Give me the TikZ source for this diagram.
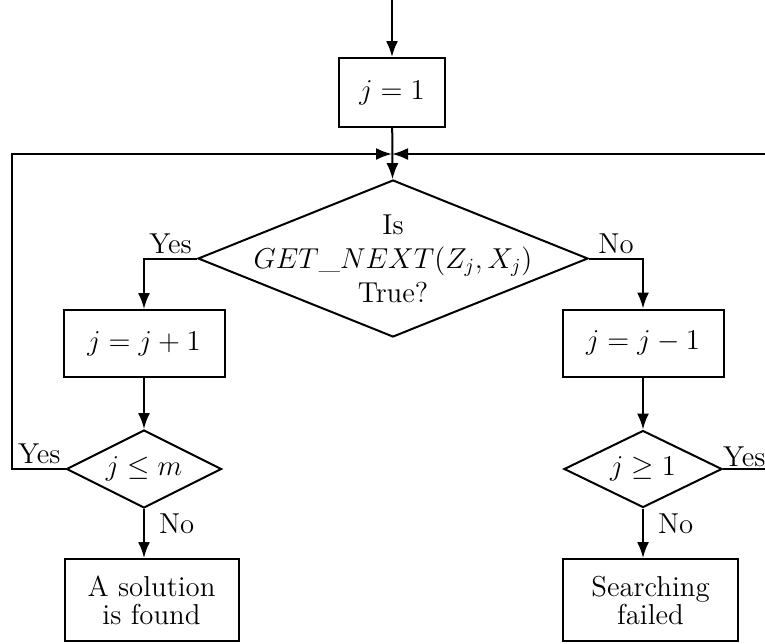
\documentclass[tikz,border=0pt]{standalone}
\usepackage{amsmath,amssymb}
\usetikzlibrary{shapes.geometric,arrows.meta}

\begin{document}
\begin{tikzpicture}[x=0.5pt,y=-0.5pt,line width=1pt,>={Latex[length=8pt,width=6pt]}]
      \tikzset{every node/.style={font=\fontsize{14.4}{14}\selectfont},
        stepbox/.style={draw,align=center,inner sep=0pt},
        decision/.style={draw,diamond,aspect=2,inner sep=0pt},
        lbl/.style={inner sep=2pt}}
      \clip (0,0) rectangle (765,643);
      \coordinate (start) at (392,0);
      \coordinate (join) at (392,154);
      \coordinate (loopL) at (12,154);
      \coordinate (loopR) at (800,154);
      \node[stepbox,minimum width=53pt,minimum height=34.5pt] (init) at (392,92.5) {$j = 1$};
      \node[decision,minimum width=195pt,minimum height=78.5pt,
        label={[align=center,font=\fontsize{14.4}{17}\selectfont]center:Is\\$GET\_NEXT(Z_j, X_j)$\\True?}] (next) at (393,258.5) {};
      \node[stepbox,minimum width=80.5pt,minimum height=33.5pt] (inc) at (144,343.5) {$j = j + 1$};
      \node[stepbox,minimum width=80.5pt,minimum height=33.5pt] (dec) at (643,343) {$j = j - 1$};
      \node[decision,minimum width=77.5pt,minimum height=39pt] (le) at (144,469) {$j \le m$};
      \node[decision,minimum width=79pt,minimum height=38.5pt] (ge) at (643,469) {$j \ge 1$};
      \node[stepbox,minimum width=87pt,minimum height=41pt] (found) at (151.5,600) {A solution\\is found};
      \node[stepbox,minimum width=87.5pt,minimum height=41pt] (failed) at (650.5,600) {Searching\\failed};
      \draw[->] (start) -- (init);
      \draw[->] (init) -- (next);
      \draw[->] (next.west) -| node[lbl,pos=0.25,above]{Yes} (inc.north);
      \draw[->] (next.east) -| node[lbl,pos=0.25,above]{No} (dec.north);
      \draw[->] (inc) -- (le);
      \draw[->] (dec) -- (ge);
      \draw[->] (le.south) -- node[lbl,pos=0.3,right=5pt]{No} (le.south |- found.north);
      \draw[->] (ge.south) -- node[lbl,pos=0.3,right=5pt]{No} (ge.south |- failed.north);
      \draw[->] (le.west) -| node[lbl,pos=0,anchor=south east]{Yes} (loopL) -- (join);
      \draw[->] (ge.east) -| node[lbl,pos=0,anchor=south west,inner sep=0.5pt,xshift=-1pt]{Yes} (loopR) -- (join);
\end{tikzpicture}
\end{document}
